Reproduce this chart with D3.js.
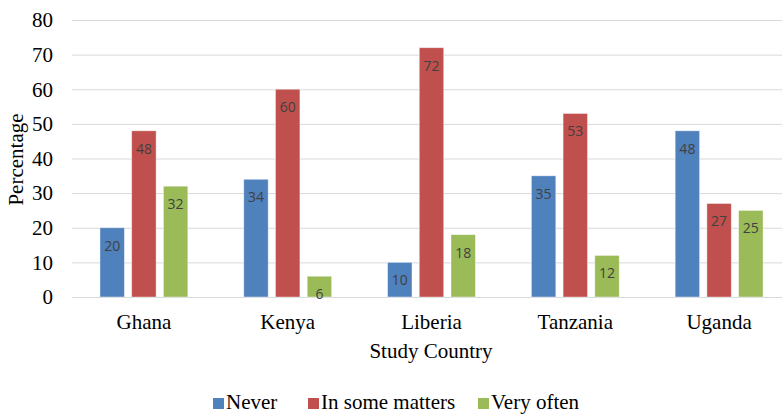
<!DOCTYPE html>
<html>
<head>
<meta charset="utf-8">
<script src="https://cdn.jsdelivr.net/npm/d3@7"></script>
<style>
  body { margin: 0; background: #fff; }
  svg { display: block; }
  .serif { font-family: 'Liberation Serif', 'DejaVu Serif', serif; font-size: 21px; fill: #000; }
  .val { font-family: 'Open Sans', 'Liberation Sans', sans-serif; font-size: 14px; fill: #404040; }
</style>
</head>
<body>
<div id="chart"></div>
<script>
/* Grouped bar chart - frequency by study country */

const countries = ['Ghana', 'Kenya', 'Liberia', 'Tanzania', 'Uganda'];
const seriesNames = ['Never', 'In some matters', 'Very often'];
const never = [20, 34, 10, 35, 48];
const someMatters = [48, 60, 72, 53, 27];
const veryOften = [32, 6, 18, 12, 25];
const yTicks = [0, 10, 20, 30, 40, 50, 60, 70, 80];

const COLORS = ['#4f81bd', '#c0504d', '#9bbb59'];

const width = 782;
const height = 414;
const plot = { left: 72, right: 791, top: 20, bottom: 297 };

const seriesValues = [never, someMatters, veryOften];
const rows = countries.map((c, i) => ({
  country: c,
  values: seriesNames.map((s, j) => ({ series: s, idx: j, value: seriesValues[j][i] })),
}));

const svg = d3.select('#chart')
  .append('svg')
  .attr('width', width)
  .attr('height', height);

const x0 = d3.scaleBand()
  .domain(countries)
  .range([plot.left, plot.right])
  .paddingInner(0.389)
  .paddingOuter(0.1945);

const x1 = d3.scaleBand()
  .domain(seriesNames)
  .range([0, x0.bandwidth()])
  .paddingInner(0.23)
  .paddingOuter(0);

const y = d3.scaleLinear()
  .domain([0, 80])
  .range([plot.bottom, plot.top]);

// Gridlines
svg.append('g')
  .selectAll('line')
  .data(yTicks)
  .join('line')
  .attr('x1', plot.left)
  .attr('x2', width)
  .attr('y1', d => y(d) + 0.5)
  .attr('y2', d => y(d) + 0.5)
  .attr('stroke', '#d9d9d9')
  .attr('stroke-width', 1);

// Y tick labels
svg.append('g')
  .selectAll('text')
  .data(yTicks)
  .join('text')
  .attr('class', 'serif')
  .attr('x', 53)
  .attr('y', d => y(d))
  .attr('dy', '0.35em')
  .attr('text-anchor', 'end')
  .text(d => d);

// Y axis title
svg.append('text')
  .attr('class', 'serif')
  .attr('transform', `translate(23, ${(plot.top + plot.bottom) / 2 + 1}) rotate(-90)`)
  .attr('text-anchor', 'middle')
  .text('Percentage');

// Bars
const groups = svg.append('g')
  .selectAll('g')
  .data(rows)
  .join('g')
  .attr('transform', d => `translate(${x0(d.country)},0)`);

groups.selectAll('rect')
  .data(d => d.values)
  .join('rect')
  .attr('x', d => x1(d.series))
  .attr('y', d => y(d.value))
  .attr('width', x1.bandwidth())
  .attr('height', d => y(0) - y(d.value))
  .attr('fill', d => COLORS[d.idx])
  .attr('stroke', '#fff')
  .attr('stroke-opacity', 0.5)
  .attr('stroke-width', 0.8);

// Data labels
groups.selectAll('text')
  .data(d => d.values)
  .join('text')
  .attr('class', 'val')
  .attr('x', d => x1(d.series) + x1.bandwidth() / 2)
  .attr('y', d => y(d.value) + 18)
  .attr('dy', '0.35em')
  .attr('text-anchor', 'middle')
  .text(d => d.value);

// Category labels
svg.append('g')
  .selectAll('text')
  .data(countries)
  .join('text')
  .attr('class', 'serif')
  .attr('x', d => x0(d) + x0.bandwidth() / 2)
  .attr('y', 322)
  .attr('dy', '0.35em')
  .attr('text-anchor', 'middle')
  .text(d => d);

// X axis title
svg.append('text')
  .attr('class', 'serif')
  .attr('x', 431)
  .attr('y', 351)
  .attr('dy', '0.35em')
  .attr('text-anchor', 'middle')
  .text('Study Country');

// Legend
const legendX = [213, 308, 478];
const legend = svg.append('g')
  .selectAll('g')
  .data(seriesNames)
  .join('g')
  .attr('transform', (d, i) => `translate(${legendX[i]}, 398)`);

legend.append('rect')
  .attr('width', 11)
  .attr('height', 11)
  .attr('fill', (d, i) => COLORS[i]);

legend.append('text')
  .attr('class', 'serif')
  .attr('x', 13)
  .attr('y', 3.6)
  .attr('dy', '0.35em')
  .text(d => d);
</script>
</body>
</html>
